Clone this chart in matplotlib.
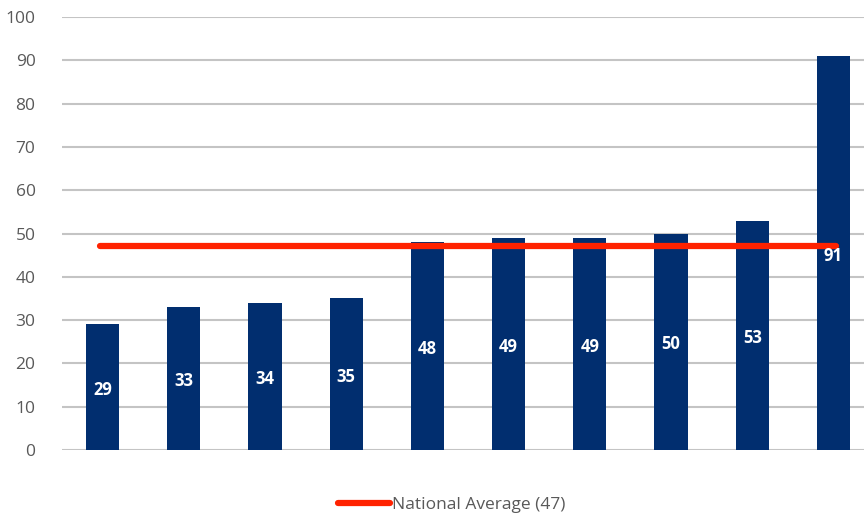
import matplotlib
matplotlib.use("Agg")
import matplotlib.pyplot as plt
from matplotlib.lines import Line2D
import numpy as np

values = [29, 33, 34, 35, 48, 49, 49, 50, 53, 91]
national_average = 47
legend_label = "National Average (47)"
y_ticks = [0, 10, 20, 30, 40, 50, 60, 70, 80, 90, 100]

plt.rcParams['font.family'] = ['Open Sans', 'DejaVu Sans']

fig = plt.figure(figsize=(8.64, 5.16), dpi=100)
W, H = 864, 516
left, right = 62, 874
top, bottom = 17, 450
ax = fig.add_axes([left / W, 1 - bottom / H, (right - left) / W, (bottom - top) / H])

x = np.arange(len(values))
bar_color = "#012E6F"
ax.bar(x, values, width=0.41, color=bar_color, zorder=3)

for xi, v in zip(x, values):
    ax.text(xi, v / 2 - 0.6, str(v), ha="center", va="center", color="white",
            fontsize=12, fontweight="bold", zorder=5)

ax.plot([x[0] - 0.03, x[-1] + 0.03], [national_average, national_average],
        color="#FF2200", linewidth=4.5, solid_capstyle="round", zorder=4)

ax.set_xlim(-0.5, 9.5)
ax.set_ylim(0, 100)
ax.set_yticks(y_ticks)
ax.set_xticks([])
ax.grid(axis="y", color="#C4C4C4", linewidth=1.5, zorder=0)
for s in ax.spines.values():
    s.set_visible(False)
ax.tick_params(axis="y", length=0, pad=19, labelsize=12.5, labelcolor="#595959")

handle = Line2D([0], [0], color="#FF2200", linewidth=4.5, solid_capstyle="round")
fig.legend([handle], [legend_label], loc="center", bbox_to_anchor=(452 / W, 1 - 505 / H),
           frameon=False, fontsize=12.5, labelcolor="#595959", handlelength=3.0,
           handletextpad=0.1)

fig.savefig("out.png", dpi=100)
